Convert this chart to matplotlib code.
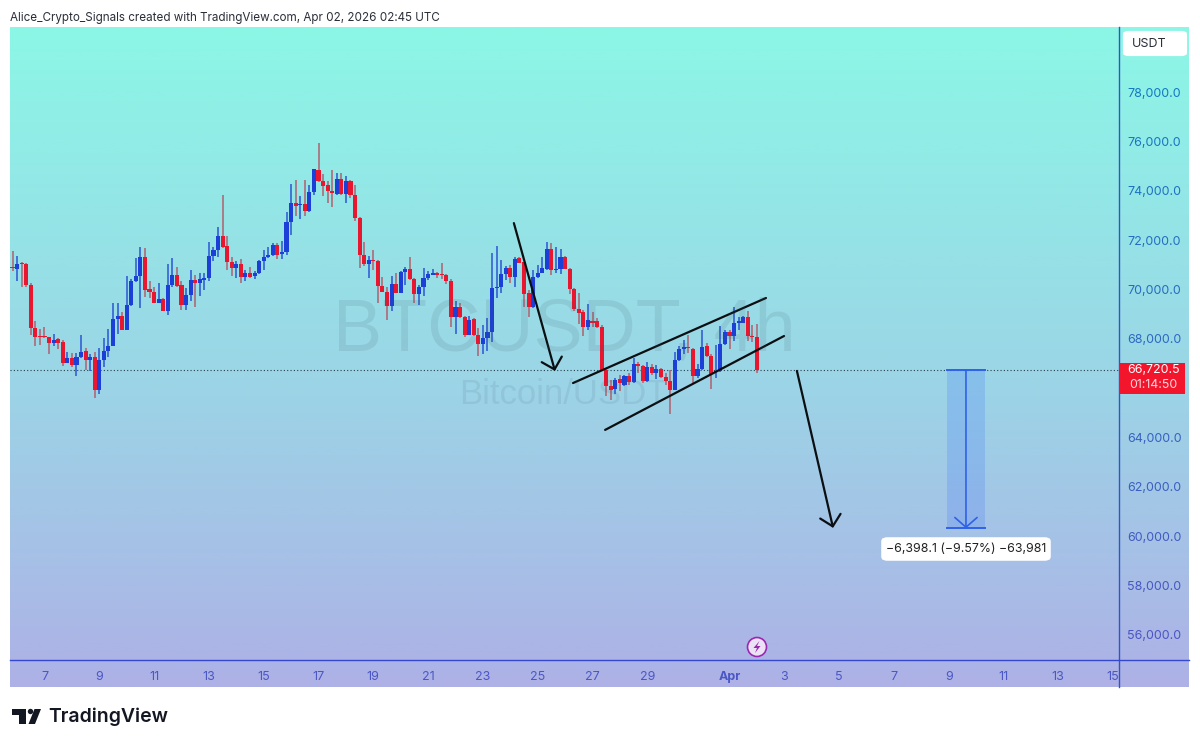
"""
BTCUSDT 4h chart - TradingView snapshot with bear flag drawing
"""

import numpy as np
import matplotlib
matplotlib.use("Agg")
import matplotlib.pyplot as plt
from matplotlib.lines import Line2D
from matplotlib.patches import Rectangle, FancyBboxPatch, Polygon, Ellipse
from matplotlib.colors import LinearSegmentedColormap

plt.rcParams["font.family"] = ["Inter", "Roboto", "DejaVu Sans"]

W, H = 1200, 747

# candles, 4h each, first one starts Mar 5 20:00
first_day = 5 + 20 / 24
candle_days = 4 / 24

opens = [70900, 70830, 71090, 71020, 70170, 68430, 68120, 68120, 68070, 67820, 67990, 67880, 67040, 67220, 66950, 67260,
         67490, 67150, 67280, 65910, 67150, 67490, 67720, 68810, 68930, 68360, 69380, 70360, 70560, 71310, 70010, 69890,
         69470, 69610, 69130, 70200, 70600, 70170, 69380, 69790, 70390, 70280, 70390, 70480, 71360, 71580, 72170, 71780,
         71130, 70860, 71040, 70520, 70680, 70550, 70660, 71170, 71310, 71400, 71810, 71430, 71500, 72750, 73520, 73410,
         73470, 73200, 73930, 74840, 74410, 74220, 73990, 73870, 74470, 73870, 74400, 73830, 72910, 71400, 71020, 71200,
         71170, 70160, 69890, 69350, 70230, 69850, 70700, 70820, 70430, 69820, 70120, 70460, 70600, 70660, 70640, 70580,
         70360, 68880, 69310, 68880, 68160, 68810, 68160, 67800, 68030, 68280, 70060, 70090, 70620, 70870, 70500, 71270,
         71100, 69850, 69310, 70500, 70660, 70820, 71630, 70790, 70820, 71310, 70850, 70040, 69210, 69070, 68470, 68740,
         68710, 68500, 66720, 66070, 65960, 66380, 66140, 66500, 66260, 66970, 66880, 66280, 66850, 66610, 66770, 66470,
         66310, 65930, 67150, 67580, 67650, 67580, 66510, 66770, 67690, 67320, 66640, 66690, 67780, 68270, 68120, 68660,
         68660, 68880, 68120, 68070]
highs = [71540, 71370, 71130, 71060, 70280, 68740, 68400, 68500, 68090, 68200, 68030, 67960, 67450, 67420, 67420, 68160,
         67620, 67390, 67450, 67620, 68030, 68390, 69470, 69470, 69070, 70550, 70420, 71270, 71740, 71670, 70360, 70120,
         70250, 69650, 71040, 71270, 70930, 70360, 70050, 70770, 70590, 70660, 70680, 71940, 71710, 72520, 73830, 72170,
         71330, 71170, 71230, 70790, 70900, 70730, 71200, 71580, 71740, 71870, 71870, 71970, 73160, 74280, 74440, 73790,
         74440, 74240, 74870, 75950, 74680, 74410, 74840, 74740, 74740, 74600, 74440, 74240, 72930, 71940, 71360, 71580,
         71200, 70520, 70120, 70550, 70660, 70730, 70930, 71330, 70460, 70190, 70890, 70730, 70820, 70710, 71060, 70630,
         70420, 69550, 69440, 68930, 68930, 68840, 68430, 68570, 68840, 71470, 71770, 71200, 70960, 71000, 71330, 71330,
         71130, 69980, 70770, 71000, 71310, 71940, 71900, 71710, 71630, 71360, 70860, 70050, 69850, 69150, 69420, 69070,
         68840, 68570, 66770, 66340, 66410, 66540, 66540, 66610, 67220, 67080, 66950, 67080, 66990, 66950, 66810, 66610,
         66740, 67450, 67690, 67960, 68160, 67620, 66990, 68360, 67820, 67390, 67760, 68530, 68360, 68340, 69310, 68880,
         68930, 69110, 68570, 68610]
lows = [70730, 70350, 70120, 70120, 68160, 67720, 67760, 68030, 67390, 67690, 67580, 66910, 67010, 66850, 66500, 67230,
        66740, 66680, 65600, 65770, 66850, 67280, 67690, 68200, 68340, 68340, 69340, 70320, 69270, 69710, 69650, 69440,
        69440, 69110, 68960, 70120, 70120, 69170, 69170, 69550, 69310, 69740, 69980, 70360, 71170, 71330, 71670, 70790,
        70550, 70460, 70280, 70350, 70460, 70430, 70630, 70790, 71270, 71360, 71230, 71230, 71400, 72210, 72980, 72850,
        72980, 73160, 73830, 74370, 73790, 73520, 73330, 73830, 73830, 73490, 73700, 72790, 70860, 70960, 70460, 70790,
        69470, 69890, 68770, 69110, 69850, 69850, 70190, 70390, 69440, 69380, 69740, 70390, 70580, 70460, 70420, 70230,
        68500, 68200, 68840, 68070, 68160, 68130, 67320, 67390, 67490, 67890, 69650, 69850, 70390, 70250, 70090, 71060,
        69310, 68880, 69240, 70460, 70660, 70770, 70590, 70660, 70630, 70820, 69820, 69110, 68610, 68120, 68360, 68470,
        68430, 66680, 65690, 65530, 65770, 65870, 66100, 66140, 66230, 66610, 66230, 66270, 66540, 66370, 66410, 66140,
        64960, 65910, 67120, 67390, 67420, 66230, 66410, 66740, 67280, 65960, 66410, 66660, 67760, 67580, 67930, 68360,
        68630, 67930, 67890, 66610]
closes = [70870, 71020, 71020, 70170, 68430, 68070, 68070, 68090, 67820, 67960, 67820, 67040, 67220, 66950, 67260, 67470,
          67150, 67260, 65910, 67150, 67500, 67720, 68810, 68930, 68360, 69380, 70360, 70560, 71310, 69980, 69890, 69470,
          69610, 69130, 70200, 70600, 70150, 69380, 69790, 70390, 70280, 70420, 70480, 71360, 71580, 72170, 71740, 71130,
          70860, 71040, 70520, 70680, 70520, 70660, 71170, 71310, 71400, 71810, 71400, 71500, 72750, 73520, 73390, 73470,
          73200, 73930, 74870, 74410, 74200, 73990, 73900, 74470, 73870, 74400, 73830, 72890, 71400, 71040, 71200, 71170,
          70160, 69890, 69350, 70230, 69850, 70700, 70820, 70430, 69820, 70120, 70460, 70630, 70660, 70580, 70580, 70360,
          68880, 69280, 68880, 68160, 68770, 68160, 67800, 68040, 68280, 70080, 70090, 70620, 70870, 70500, 71240, 71090,
          69820, 69310, 70500, 70660, 70870, 71630, 70770, 70850, 71310, 70850, 70040, 69210, 69040, 68500, 68770, 68660,
          68470, 66740, 66070, 65930, 66340, 66200, 66500, 66260, 66970, 66880, 66280, 66850, 66610, 66770, 66470, 66310,
          65930, 67150, 67580, 67650, 67610, 66510, 66770, 67650, 67320, 66580, 66690, 67780, 68270, 68120, 68630, 68710,
          68880, 68120, 68070, 66720]

# 66,000 sits behind the last price tag, so it is left out
price_ticks = [56000, 58000, 60000, 62000, 64000, 68000, 70000, 72000, 74000, 76000, 78000]
day_ticks = [7, 9, 11, 13, 15, 17, 19, 21, 23, 25, 27, 29, 32, 34, 36, 38, 40, 42, 44, 46]
day_labels = ["7", "9", "11", "13", "15", "17", "19", "21", "23", "25", "27", "29", "Apr", "3", "5", "7", "9", "11", "13", "15"]

last_price = 66720.5

# hand drawn stuff, (day, price)
arrow_one = [(24.13, 72690), (25.63, 66700)]
arrow_two = [(34.46, 66700), (35.78, 60340)]
channel_top = [(26.29, 66210), (33.33, 69655)]
channel_bottom = [(27.46, 64310), (33.99, 68115)]
measure_days = [39.94, 41.32]
measure_prices = [66720, 60322]
measure_label = "\u22126,398.1 (\u22129.57%) \u221263,981"


def px(x, y):
    # pixel position to figure fraction, y from the top
    return x / W, 1 - y / H


def fig_rect(x0, y0, x1, y1, **kw):
    fig.add_artist(Rectangle(px(x0, y1), (x1 - x0) / W, (y1 - y0) / H, transform=fig.transFigure, **kw))


fig = plt.figure(figsize=(W / 100, H / 100), dpi=100, facecolor="white")

# background gradient
bg = fig.add_axes([10 / W, 1 - 687 / H, 1179 / W, 660 / H], zorder=0)
cmap = LinearSegmentedColormap.from_list("bg", [(0, "#8CF7E6"), (0.52, "#9BD6E6"), (1, "#AEB1E6")])
bg.imshow(np.linspace(0, 1, 256).reshape(-1, 1), aspect="auto", cmap=cmap)
bg.axis("off")

# main chart
ax = fig.add_axes([10 / W, 1 - 660 / H, 1109 / W, 633 / H], zorder=1)
ax.patch.set_alpha(0)
ax.set_xlim(5.741, 46.215)
ax.set_ylim(54987, 80636)

fig.text(*px(564, 331), "BTCUSDT, 4h", fontsize=53, color="#3E5A70", alpha=0.13, ha="center", va="center",
         family=["Liberation Sans", "DejaVu Sans"], zorder=1)
fig.text(*px(563, 394), "Bitcoin/USDT", fontsize=25, color="#3E5A70", alpha=0.11, ha="center", va="center",
         family=["Liberation Sans", "DejaVu Sans"], zorder=1)

o = np.array(opens)
h = np.array(highs)
l = np.array(lows)
c = np.array(closes)
x = first_day + np.arange(len(o)) * candle_days
up = c >= o

ax.vlines(x[up], l[up], h[up], color="#2A56D2", lw=1.1, zorder=3)
ax.vlines(x[~up], l[~up], h[~up], color="#B0606E", lw=1.1, zorder=3)
ax.bar(x[up], (c - o)[up], bottom=o[up], width=0.15, color="#1C3FD8", zorder=4)
ax.bar(x[~up], (o - c)[~up], bottom=c[~up], width=0.15, color="#E8172F", zorder=4)

ax.axhline(last_price, color="#27404F", lw=0.8, ls=(0, (1, 2)), zorder=2)

# channel and arrows
for line in [channel_top, channel_bottom]:
    ax.plot(*zip(*line), color="#0B0F12", lw=1.6, solid_capstyle="round", zorder=6)
for arrow in [arrow_one, arrow_two]:
    ax.annotate("", xy=arrow[1], xytext=arrow[0], zorder=6,
                arrowprops=dict(arrowstyle="->,head_length=0.75,head_width=0.75", mutation_scale=10,
                                color="#0B0F12", lw=1.6, shrinkA=0, shrinkB=0))

# measure tool
ax.add_patch(Rectangle((measure_days[0], measure_prices[1]), measure_days[1] - measure_days[0],
                       measure_prices[0] - measure_prices[1], color="#2962FF", alpha=0.18, lw=0, zorder=5))
for p in measure_prices:
    ax.plot(measure_days, [p, p], color="#2F62E8", lw=1.4, zorder=6)
ax.annotate("", xy=(np.mean(measure_days), measure_prices[1]), xytext=(np.mean(measure_days), measure_prices[0]),
            zorder=6, arrowprops=dict(arrowstyle="->,head_length=0.7,head_width=0.8", mutation_scale=10,
                                      color="#2F62E8", lw=1.2, shrinkA=0, shrinkB=0))

# axes look
ax.yaxis.tick_right()
ax.set_yticks(price_ticks)
ax.set_yticklabels([f"{v:,.1f}" for v in price_ticks], fontsize=9)
ax.set_xticks(day_ticks)
ax.set_xticklabels(day_labels, fontsize=9)
ax.tick_params(length=0)
ax.tick_params(axis="y", pad=6)
ax.tick_params(axis="x", pad=8)
for lab, v in zip(ax.get_yticklabels(), price_ticks):
    t = (v - 56000) / 22000
    lab.set_color((0.29 - 0.21 * t, 0.33 + 0.14 * t, 0.76))
for lab in ax.get_xticklabels():
    lab.set_color("#4A57C4")
    if lab.get_text() == "Apr":
        lab.set_fontweight("bold")
for s in ax.spines.values():
    s.set_visible(False)

# axis lines run into the scale areas
fig.add_artist(Line2D([1119 / W, 1119 / W], [1 - 27 / H, 1 - 687 / H], color="#2F55C8", lw=1.0, zorder=3))
fig.add_artist(Line2D([10 / W, 1189 / W], [1 - 660 / H, 1 - 660 / H], color="#3348CE", lw=1.0, zorder=3))

# measure label
fig.add_artist(FancyBboxPatch(px(884, 558), 164 / W, 18 / H, transform=fig.transFigure,
                              boxstyle="round,pad=0,rounding_size=0.003", mutation_aspect=H / W,
                              facecolor="white", edgecolor="white", lw=4, zorder=7))
fig.text(*px(966, 549.5), measure_label, fontsize=8.9, color="#222", ha="center", va="center", zorder=8)

# last price tag
fig_rect(1119, 363, 1185, 393.5, facecolor="#F2152C", edgecolor="none", zorder=7)
fig.text(*px(1153.5, 370.5), "66,720.5", fontsize=8.9, color="white", ha="center", va="center", zorder=8)
fig.text(*px(1153.5, 385), "01:14:50", fontsize=8.9, color="#FFD7DB", ha="center", va="center", zorder=8)

# currency box
fig.add_artist(FancyBboxPatch(px(1125, 54), 60 / W, 21 / H, transform=fig.transFigure,
                              boxstyle="round,pad=0,rounding_size=0.003", mutation_aspect=H / W,
                              facecolor="white", edgecolor="white", lw=3, zorder=7))
fig.text(*px(1132, 44), "USDT", fontsize=9, color="#2A2E39", ha="left", va="center", zorder=8)

# lightning icon
fig.add_artist(Ellipse(px(757, 647), 19 / W, 19 / H, transform=fig.transFigure, facecolor="#EBE2F6",
                       edgecolor="#9C27B0", lw=1.2, zorder=7))
bolt = [(759.5, 641), (753.5, 648), (757, 648), (755, 653), (760.5, 646), (757, 646)]
fig.add_artist(Polygon([px(a, b) for a, b in bolt], transform=fig.transFigure, facecolor="#9C27B0", lw=0, zorder=8))

# header and logo
fig.text(*px(10, 17.5), "Alice_Crypto_Signals created with TradingView.com, Apr 02, 2026 02:45 UTC", fontsize=8.4,
         color="#2A2E39", ha="left", va="center")

logo_t = [(12, 709), (26, 709), (26, 724), (19, 724), (19, 714.5), (12, 714.5)]
logo_slash = [(34.5, 709), (41, 709), (35, 724), (28.5, 724)]
fig.add_artist(Polygon([px(a, b) for a, b in logo_t], transform=fig.transFigure, facecolor="#131722", lw=0))
fig.add_artist(Polygon([px(a, b) for a, b in logo_slash], transform=fig.transFigure, facecolor="#131722", lw=0))
fig.add_artist(Ellipse(px(30.5, 711.5), 5.4 / W, 5.4 / H, transform=fig.transFigure, facecolor="#131722", lw=0))
fig.text(*px(48.5, 717), "TradingView", fontsize=14, fontweight="semibold", color="#131722", ha="left", va="center")

plt.savefig("out.png", dpi=100)
plt.close()
